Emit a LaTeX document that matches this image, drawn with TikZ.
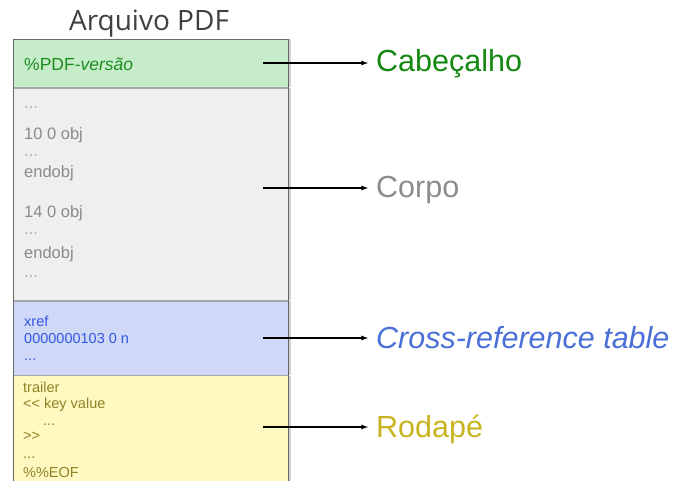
\documentclass[tikz,border=0pt]{standalone}
\usepackage{fontspec}
\setmainfont{Liberation Sans}[Ligatures=TeXOff]
\newfontfamily\titlefont{Open Sans}
\usepackage{xcolor}
\usetikzlibrary{arrows,positioning,shadows}

\definecolor{hdrfill}{HTML}{C6ECCA}
\definecolor{bodyfill}{HTML}{EFEFEF}
\definecolor{xreffill}{HTML}{CFD9F7}
\definecolor{trlfill}{HTML}{FFF8C1}
\definecolor{hdrtext}{HTML}{1E8C1E}
\definecolor{bodytext}{HTML}{8A8A8A}
\definecolor{xreftext}{HTML}{3355E6}
\definecolor{trltext}{HTML}{8C8424}
\definecolor{hdrlab}{HTML}{14880F}
\definecolor{bodylab}{HTML}{8C8C8C}
\definecolor{xreflab}{HTML}{4A70D8}
\definecolor{trllab}{HTML}{C8B41E}

\begin{document}
\begin{tikzpicture}[x=1pt,y=-1pt,
  sec/.style={rectangle,draw=black!35,line width=0.8pt,inner sep=0pt,minimum width=275pt,
    drop shadow={shadow xshift=2.5pt,shadow yshift=0pt,fill=black!30,opacity=.6}},
  txt/.style={anchor=base west,inner sep=0pt,font=\fontsize{16.5}{16.5}\selectfont},
  small/.style={anchor=base west,inner sep=0pt,font=\fontsize{14.5}{14.5}\selectfont},
  lab/.style={anchor=base west,inner xsep=8pt,inner ysep=0pt,font=\fontsize{30.5}{30.5}\selectfont},
  pointer/.style={-latex,line width=1.3pt}]

\useasboundingbox (0,0) rectangle (674,481);

\node[anchor=base,font=\titlefont\fontsize{28}{28}\selectfont,text=black!75] (title) at (149,31){Arquivo PDF};

% blocos do arquivo
\node[sec,fill=hdrfill,minimum height=48pt,anchor=north west] (hdr) at (13,39){};
\node[sec,fill=bodyfill,minimum height=212pt,below=0pt of hdr] (body){};
\node[sec,fill=xreffill,minimum height=74pt,below=0pt of body] (xref){};
\node[sec,fill=trlfill,minimum height=115pt,below=0pt of xref] (trl){};
\draw[black!60,line width=0.8pt] (hdr.north west) rectangle (trl.south east);

% cabecalho
\node[txt,font=\fontsize{17.5}{17.5}\selectfont,text=hdrtext] (h1) at (24,71){\%PDF-\textit{versão}};

% corpo
\node[txt,text=bodytext!70] (b1) at (24,109){...};
\node[txt,text=bodytext] (b2) at (24,140){10 0 obj};
\node[txt,text=bodytext!70] (b3) at (24,157){...};
\node[txt,text=bodytext] (b4) at (24,178){endobj};
\node[txt,text=bodytext] (b5) at (24,217){14 0 obj};
\node[txt,text=bodytext!70] (b6) at (24,234){...};
\node[txt,text=bodytext] (b7) at (24,258){endobj};
\node[txt,text=bodytext!70] (b8) at (24,277){...};

% tabela xref
\node[small,text=xreftext] (x1) at (24,326){xref};
\node[small,text=xreftext] (x2) at (24,343){0000000103 0 n};
\node[small,text=xreftext] (x3) at (24,360){...};

% trailer
\node[small,text=trltext] (r1) at (23,392){trailer};
\node[small,text=trltext] (r2) at (23,408){<< key value};
\node[small,text=trltext] (r3) at (43,425){...};
\node[small,text=trltext] (r4) at (23,440){>>};
\node[small,text=trltext] (r5) at (23,458){...};
\node[small,text=trltext] (r6) at (23,477){\%\%EOF};

% rotulos
\node[lab,text=hdrlab] (lhdr) at (368,72){Cabeçalho};
\node[lab,text=bodylab] (lbody) at (368,197){Corpo};
\node[lab,text=xreflab] (lxref) at (368,348){\textit{Cross-reference table}};
\node[lab,text=trllab] (ltrl) at (368,437){Rodapé};

\coordinate (phdr) at (263,63);
\coordinate (pbody) at (263,188);
\coordinate (pxref) at (263,338);
\coordinate (ptrl) at (263,427);
\draw[pointer] (phdr) -- (phdr -| lhdr.west);
\draw[pointer] (pbody) -- (pbody -| lbody.west);
\draw[pointer] (pxref) -- (pxref -| lxref.west);
\draw[pointer] (ptrl) -- (ptrl -| ltrl.west);

\end{tikzpicture}
\end{document}
